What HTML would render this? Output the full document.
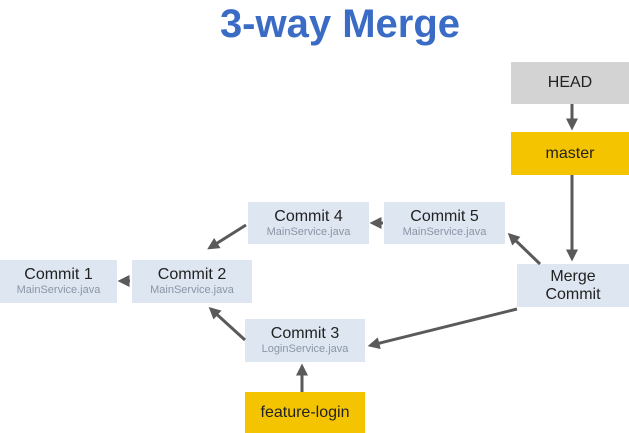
<!DOCTYPE html>
<html><head><style>
body{margin:0;width:629px;height:433px;overflow:hidden;background:#fff;font-family:"Liberation Sans",sans-serif;position:relative}
.t{position:absolute;left:40px;width:600px;top:2px;text-align:center;font-size:40px;font-weight:bold;color:#3a6bc5}
.b{position:absolute;background:#dde6f1;text-align:center;color:#222;font-size:16px;line-height:18px;display:flex;flex-direction:column;justify-content:center}
.b small{font-size:11px;color:#8a96a6;line-height:13px}
.y{background:#f5c400}.g{background:#d3d3d3}
svg{position:absolute;left:0;top:0}
</style></head><body>
<div class="t">3-way Merge</div>
<div class="b g" style="left:511px;top:62px;width:118px;height:42px">HEAD</div>
<div class="b y" style="left:511px;top:132px;width:118px;height:43px">master</div>
<div class="b" style="left:248px;top:202px;width:121px;height:42px">Commit 4<small>MainService.java</small></div>
<div class="b" style="left:384px;top:202px;width:121px;height:42px">Commit 5<small>MainService.java</small></div>
<div class="b" style="left:0;top:260px;width:117px;height:43px">Commit 1<small>MainService.java</small></div>
<div class="b" style="left:132px;top:260px;width:120px;height:43px">Commit 2<small>MainService.java</small></div>
<div class="b" style="left:517px;top:264px;width:112px;height:43px">Merge<br>Commit</div>
<div class="b" style="left:245px;top:319px;width:120px;height:43px">Commit 3<small>LoginService.java</small></div>
<div class="b y" style="left:245px;top:392px;width:120px;height:41px">feature-login</div>
<svg width="629" height="433">
<defs><marker id="a" markerWidth="4" markerHeight="4" refX="2.5" refY="2" orient="auto" markerUnits="strokeWidth"><path d="M0,0L4,2L0,4z" fill="#5a5a5a"/></marker></defs>
<g stroke="#5a5a5a" stroke-width="3" marker-end="url(#a)">
<line x1="572" y1="104" x2="572" y2="126"/>
<line x1="572" y1="175" x2="572" y2="257"/>
<line x1="540" y1="264" x2="511" y2="236"/>
<line x1="383" y1="223" x2="374" y2="223"/>
<line x1="246" y1="225" x2="211" y2="247"/>
<line x1="130" y1="281" x2="122" y2="281"/>
<line x1="517" y1="309" x2="372" y2="345"/>
<line x1="245" y1="340" x2="212" y2="310"/>
<line x1="302" y1="392" x2="302" y2="368"/>
</g></svg>
</body></html>
